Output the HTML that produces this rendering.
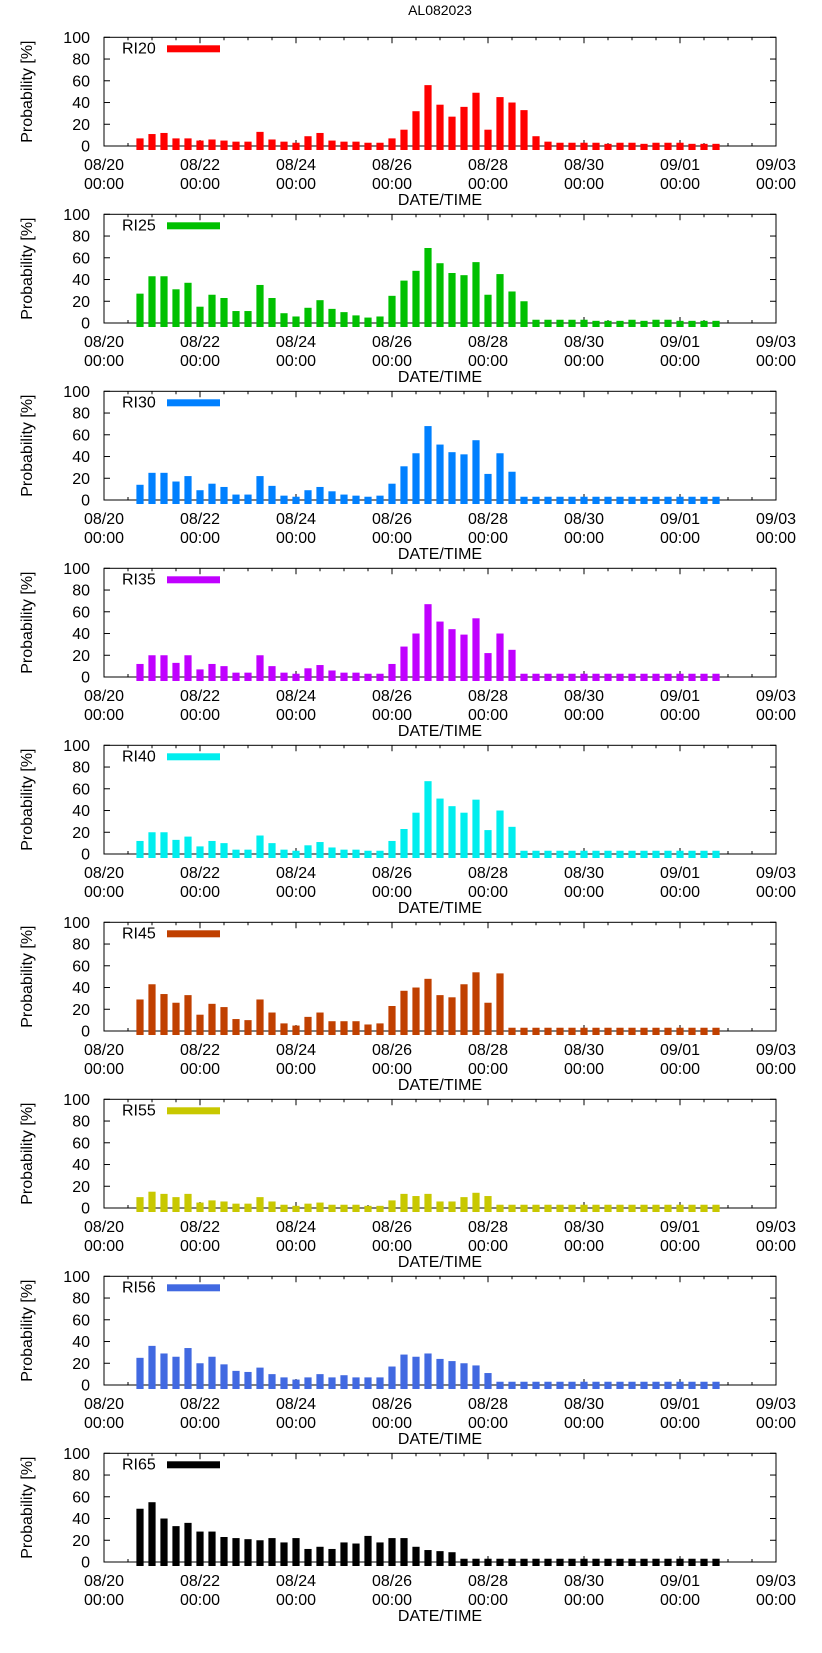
<!DOCTYPE html>
<html><head><meta charset="utf-8"><style>
html,body{margin:0;padding:0;background:#fff;}
svg{display:block;font-family:"Liberation Sans",sans-serif;}
</style></head><body>
<svg id="chart" width="822" height="1653" viewBox="0 0 822 1653" xmlns="http://www.w3.org/2000/svg">
<text x="440" y="15" font-size="14" text-anchor="middle">AL082023</text>
</svg>
<script>
const seriesNames = ["RI20","RI25","RI30","RI35","RI40","RI45","RI55","RI56","RI65"];
const seriesColors = ["#ff0000","#00c000","#0080ff","#c000ff","#00eeee","#c04000","#c8c800","#4169e1","#000000"];
const xTickLabels = ["08/20","08/22","08/24","08/26","08/28","08/30","09/01","09/03"];
const yTickLabels = [0,20,40,60,80,100];
const ri20 = [7,11,12,7,7,5,6,5,4,4,13,6,4,3,9,12,5,4,4,3,3,7,15,32,56,38,27,36,49,15,45,40,33,9,4,3,3,3,3,2,3,3,2,3,3,3,2,2,2];
const ri25 = [27,43,43,31,37,15,26,23,11,11,35,23,9,6,14,21,13,10,7,5,6,25,39,48,69,55,46,44,56,26,45,29,20,3,3,3,3,3,2,2,2,3,2,3,3,2,2,2,2];
const ri30 = [14,25,25,17,22,9,15,12,5,5,22,13,4,3,9,12,8,5,4,3,4,15,31,43,68,51,44,42,55,24,43,26,3,3,3,3,3,3,3,3,3,3,3,3,3,3,3,3,3];
const ri35 = [12,20,20,13,20,7,12,10,4,4,20,10,4,3,8,11,6,4,4,3,3,12,28,40,67,51,44,39,54,22,40,25,3,3,3,3,3,3,3,3,3,3,3,3,3,3,3,3,3];
const ri40 = [12,20,20,13,16,7,12,10,4,4,17,10,4,3,8,11,6,4,4,3,3,12,23,38,67,51,44,38,50,22,40,25,3,3,3,3,3,3,3,3,3,3,3,3,3,3,3,3,3];
const ri45 = [29,43,34,26,33,15,25,22,11,10,29,17,7,5,13,17,9,9,9,6,7,23,37,40,48,33,31,43,54,26,53,3,3,3,3,3,3,3,3,3,3,3,3,3,3,3,3,3,3];
const ri55 = [10,15,13,10,13,5,7,6,4,4,10,6,3,2,4,5,3,3,3,2,2,7,13,11,13,6,6,10,14,11,3,3,3,3,3,3,3,3,3,3,3,3,3,3,3,3,3,3,3];
const ri56 = [25,36,29,26,34,20,26,19,13,12,16,10,7,5,7,10,7,9,7,7,7,17,28,26,29,24,22,20,18,11,3,3,3,3,3,3,3,3,3,3,3,3,3,3,3,3,3,3,3];
const ri65 = [49,55,40,33,36,28,28,23,22,21,20,22,18,22,12,14,12,18,17,24,18,22,22,14,11,10,9,3,3,3,3,3,3,3,3,3,3,3,3,3,3,3,3,3,3,3,3,3,3];
const allSeries = [ri20,ri25,ri30,ri35,ri40,ri45,ri55,ri56,ri65];
const firstBarHour = 18, stepHours = 6, totalDays = 14;

const NS="http://www.w3.org/2000/svg";
const svg=document.getElementById('chart');
const L=104, R=776, H=108.7, P0=37.3, GAP=177;
function xOfHour(h){return L+(R-L)*h/(totalDays*24);}
function mk(tag,attrs,parent){const e=document.createElementNS(NS,tag);for(const k in attrs)e.setAttribute(k,attrs[k]);(parent||svg).appendChild(e);return e;}

allSeries.forEach((vals,p)=>{
  const top=P0+p*GAP, base=top+H;
  const yOf=v=>base-H*v/100;
  const g=mk('g',{});
  
  
  // frame
  const fr=mk('rect',{x:L,y:top,width:R-L,height:H,fill:'none',stroke:'#000','stroke-width':1},g);
  
  
  // x ticks
  for(let h=0;h<=totalDays*24;h+=12){
    const x=xOfHour(h), len=(h%48===0)?6:3;
    mk('line',{x1:x,x2:x,y1:top,y2:top+len,stroke:'#000','stroke-width':1},g);
    mk('line',{x1:x,x2:x,y1:base,y2:base-len,stroke:'#000','stroke-width':1},g);
  }
  // bars (drawn over ticks)
  vals.forEach((v,i)=>{
    const cx=xOfHour(firstBarHour+i*stepHours);
    const r=mk('rect',{x:cx-3.6,y:yOf(v),width:7.2,height:base+4-yOf(v),fill:seriesColors[p]},g);
    
    
  });
  xTickLabels.forEach((lab,i)=>{
    const x=xOfHour(i*48);
    const t=mk('text',{x:x,y:base+24,'font-size':16,'text-anchor':'middle'},g);
    t.textContent=lab;
    
    
    const t2=mk('text',{x:x,y:base+43,'font-size':16,'text-anchor':'middle'},g);
    t2.textContent='00:00';
    
    
  });
  yTickLabels.forEach(v=>{
    const y=yOf(v);
    mk('line',{x1:L,x2:L+6,y1:y,y2:y,stroke:'#000'},g);
    mk('line',{x1:R,x2:R-6,y1:y,y2:y,stroke:'#000'},g);
    const t=mk('text',{x:90,y:y+5.5,'font-size':16,'text-anchor':'end'},g);
    t.textContent=v;
    
    
  });
  const yt=mk('text',{x:0,y:0,'font-size':16,'text-anchor':'middle',transform:'translate(32,'+(top+H/2)+') rotate(-90)'},g);
  yt.textContent='Probability [%]';
  
  
  const xt=mk('text',{x:440,y:base+59,'font-size':16,'text-anchor':'middle'},g);
  xt.textContent='DATE/TIME';
  
  
  const lt=mk('text',{x:122,y:top+16,'font-size':16},g);
  lt.textContent=seriesNames[p];
  
  
  const ls=mk('rect',{x:167,y:top+8,width:53,height:7,fill:seriesColors[p]},g);
  
  
});
</script>
</body></html>
